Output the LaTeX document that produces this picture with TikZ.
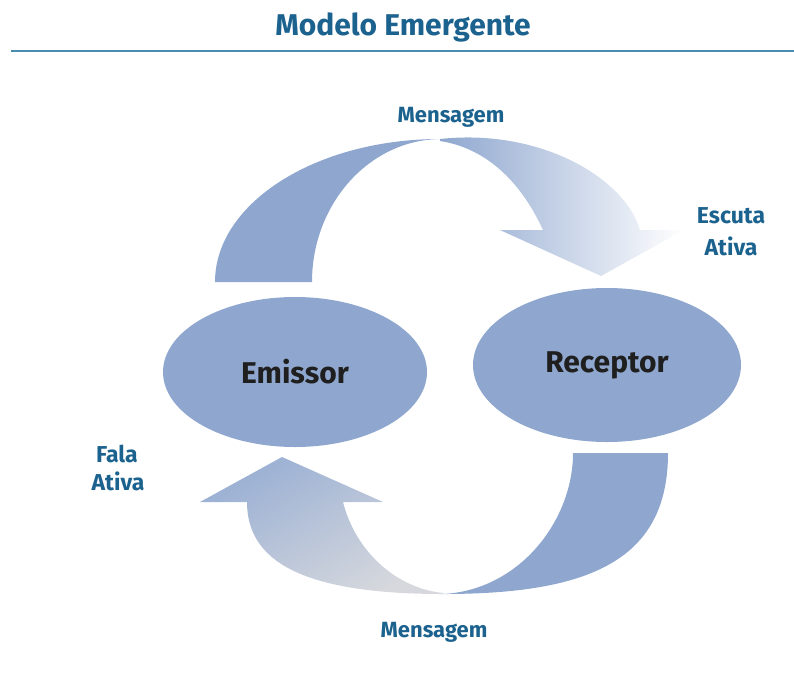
\documentclass[tikz,border=0pt]{standalone}
\usepackage{fontspec}
\setmainfont{Fira Sans}
\usetikzlibrary{shapes.geometric}
\definecolor{bodyblue}{RGB}{143,167,207}
\definecolor{textblue}{RGB}{27,98,142}
\definecolor{ruleblue}{RGB}{72,140,176}
\definecolor{fadegray}{RGB}{214,216,221}

\begin{document}
\begin{tikzpicture}[x=1pt,y=-1pt,
    actor/.style={ellipse,fill=bodyblue,minimum width=264,minimum height=150,
        font=\fontsize{30}{36}\selectfont\bfseries,text=black!88},
    lbl/.style={anchor=base,text=textblue,font=\fontsize{23}{28}\selectfont\bfseries}]
\useasboundingbox (0,0) rectangle (794,678);
\node[lbl,font=\fontsize{30}{36}\selectfont\bfseries] (title) at (403,35) {Modelo Emergente};
\coordinate (rulestart) at (11,51);
\coordinate (ruleend) at (794,51);
\draw[ruleblue,line width=2.5] (rulestart) -- (ruleend);
\fill[bodyblue] (215,282) .. controls (215,203) and (316,139) .. (440,139)
    .. controls (369,140) and (312,204) .. (312,282) -- cycle;
\shade[left color=bodyblue,right color=white] (440,139) .. controls (540,128) and (625,178) .. (640,230)
    -- (684,230) -- (601,276) -- (500,230) -- (543,230) .. controls (520,180) and (485,148) .. (440,141) -- cycle;
\fill[bodyblue] (668,453) .. controls (668,560) and (590,594) .. (443,594)
    .. controls (520,590) and (573,520) .. (573,453) -- cycle;
\shade[top color=bodyblue!90!white,bottom color=fadegray,shading angle=30] (443,594) .. controls (300,594) and (247,560) .. (247,502)
    -- (200,502) -- (282,457) -- (383,502) -- (343,502) .. controls (355,550) and (395,588) .. (443,593) -- cycle;
\node[actor] (emissor) at (295,372) {Emissor};
\node[actor,minimum width=268,minimum height=154] (receptor) at (607,365) {Receptor};
\node[lbl,font=\fontsize{22}{26}\selectfont\bfseries] (msgtop) at (451,122) {Mensagem};
\node[lbl] (escuta) at (731,223) {Escuta};
\node[lbl] (ativaright) at (731,255) {Ativa};
\node[lbl] (fala) at (117,462) {Fala};
\node[lbl] (ativaleft) at (118,490) {Ativa};
\node[lbl,font=\fontsize{22}{26}\selectfont\bfseries] (msgbottom) at (434,637) {Mensagem};
\end{tikzpicture}
\end{document}
